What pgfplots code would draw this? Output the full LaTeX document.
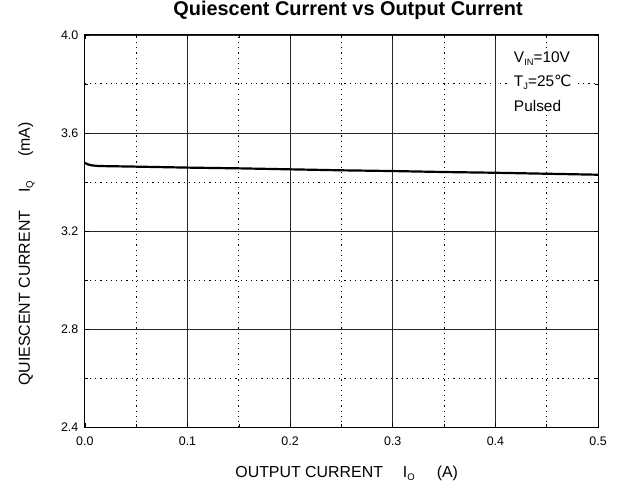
\documentclass[border=0pt]{standalone}
\usepackage{fontspec}
\setmainfont{Liberation Sans}
\newfontfamily\djv{DejaVu Sans}
\usepackage{pgfplots}
\pgfplotsset{compat=1.18}
\newcommand{\sub}[1]{\raisebox{-0.35ex}{\scalebox{0.6}{#1}}}
\begin{document}
\begin{tikzpicture}
\begin{axis}[
  scale only axis,
  width=514bp, height=393bp,
  xmin=0, xmax=0.5, ymin=2.4, ymax=4.0,
  xtick={0,0.1,...,0.5}, ytick={2.4,2.8,3.2,3.6,4.0},
  minor xtick={0.05,0.15,...,0.45}, minor ytick={2.6,3.0,3.4,3.8},
  grid=both,
  major grid style={black!85, line width=0.8bp},
  minor grid style={black, line width=1bp, dash pattern=on 1.2bp off 4bp},
  tick align=inside,
  major tick length=4bp, minor tick length=3bp,
  every tick/.style={black, line width=0.6bp},
  axis line style={line width=0.9bp},
  xticklabel style={/pgf/number format/fixed, /pgf/number format/precision=1, /pgf/number format/fixed zerofill, font=\fontsize{12.5}{14}\selectfont, yshift=-6bp},
  yticklabel style={/pgf/number format/fixed, /pgf/number format/precision=1, /pgf/number format/fixed zerofill, font=\fontsize{12.5}{14}\selectfont, xshift=-3bp},
  /pgf/number format/assume math mode=true,
  clip=false,
]
\addplot[black, line width=2.2bp] coordinates {
 (0,3.478) (0.003,3.472) (0.007,3.468) (0.012,3.466) (0.02,3.465) (0.05,3.463)
 (0.1,3.459) (0.15,3.456) (0.2,3.452) (0.25,3.448) (0.3,3.445) (0.35,3.441)
 (0.4,3.438) (0.45,3.434) (0.5,3.430)
};
\node[fill=white, anchor=north west, align=left, inner xsep=3bp, inner ysep=4bp, font=\fontsize{15.5}{24.5}\selectfont]
  at (rel axis cs:0.83,0.968)
  {V\sub{IN}=10V\\T\sub{J}=25{\djv ℃}\\Pulsed};
\node[anchor=base west, font=\bfseries\fontsize{20}{22}\selectfont] at (rel axis cs:0.1657,1.0496)
  {Quiescent Current vs Output Current};
\node[anchor=base west, font=\fontsize{16}{18}\selectfont] at (rel axis cs:0.2865,-0.127)
  {OUTPUT CURRENT\hspace{20bp}I\sub{O}\hspace{22bp}(A)};
\node[anchor=base west, rotate=90, font=\fontsize{16}{18}\selectfont] at (rel axis cs:-0.107,0.097)
  {QUIESCENT CURRENT\hspace{18bp}I\sub{Q}\hspace{24bp}(mA)};
\end{axis}
\pgfresetboundingbox
\path ([shift={(-85bp,-62bp)}]current axis.south west) rectangle ([shift={(22bp,35bp)}]current axis.north east);
\end{tikzpicture}
\end{document}
